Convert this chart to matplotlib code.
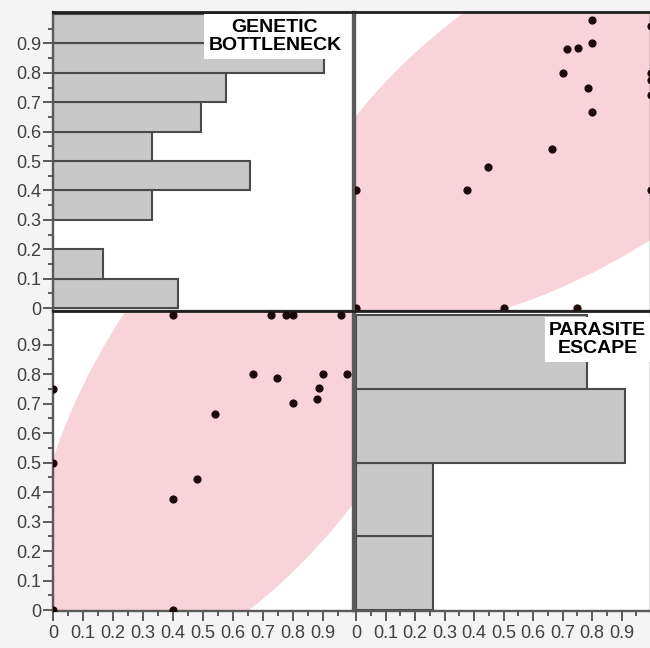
import numpy as np
import matplotlib
matplotlib.use("Agg")
import matplotlib.pyplot as plt
import matplotlib.ticker as ticker
from matplotlib.patches import Ellipse

plt.rcParams.update({
    "font.family": ["Liberation Sans", "DejaVu Sans"],
    "font.size": 13,
})

# Paired observations (genetic bottleneck, parasite escape)
GENETIC = [0.40, 0.725, 0.775, 0.80, 0.96, 0.667, 0.747, 0.90, 0.98, 0.885,
           0.88, 0.80, 0.54, 0.48, 0.40, 0.40, 0.0, 0.0, 0.0]
PARASITE = [1.0, 1.0, 1.0, 1.0, 1.0, 0.80, 0.786, 0.80, 0.80, 0.752,
            0.716, 0.702, 0.665, 0.446, 0.375, 0.0, 0.75, 0.50, 0.0]

# Histogram bins and bar lengths (in axis units)
GB_BIN_EDGES = [0.0, 0.1, 0.2, 0.3, 0.4, 0.5, 0.6, 0.7, 0.8, 0.9, 1.0]
GB_BAR_LENGTHS = [0.415, 0.167, 0.0, 0.331, 0.656, 0.331, 0.492, 0.576, 0.903, 0.82]
PE_BIN_EDGES = [0.0, 0.25, 0.5, 0.75, 1.0]
PE_BAR_LENGTHS = [0.26, 0.26, 0.912, 0.783]

# Density ellipse (x = genetic, y = parasite)
ELLIPSE_CENTER = (0.676, 0.765)
ELLIPSE_AXES = (2.20, 1.00)
ELLIPSE_ANGLE = 56.5

TICKS = [0.0, 0.1, 0.2, 0.3, 0.4, 0.5, 0.6, 0.7, 0.8, 0.9]
MINOR = [0.05, 0.15, 0.25, 0.35, 0.45, 0.55, 0.65, 0.75, 0.85, 0.95]

W, H = 650, 648
EDGE = "#5a5a5a"
PINK = "#f9d3da"
BAR = "#c8c8c8"
BAR_EDGE = "#4a4a4a"
DOT = "#1c0707"


def px_axes(fig, x0, y0, x1, y1):
    return fig.add_axes([x0 / W, 1 - y1 / H, (x1 - x0) / W, (y1 - y0) / H])


def style(ax, xlab=False, ylab=False):
    for s in ax.spines.values():
        s.set_color(EDGE)
        s.set_linewidth(1.7)
    ax.spines["top"].set_color("#202020")
    ax.spines["top"].set_linewidth(2.0)
    ax.tick_params(which="both", color=EDGE, width=1.4, labelcolor="#404040")
    ax.tick_params(which="major", length=7, pad=1.5)
    ax.tick_params(which="minor", length=3.5)
    ax.set_xticks([])
    ax.set_yticks([])
    fmt = ticker.FuncFormatter(lambda v, pos: "0" if v == 0 else f"{v:.1f}")
    if xlab:
        ax.set_xticks(TICKS)
        ax.xaxis.set_minor_locator(ticker.FixedLocator(MINOR))
        ax.xaxis.set_major_formatter(fmt)
        ax.tick_params(axis="x", which="major", pad=3)
    if ylab:
        ax.set_yticks(TICKS)
        ax.yaxis.set_minor_locator(ticker.FixedLocator(MINOR))
        ax.yaxis.set_major_formatter(fmt)


def label(ax, x, y, s):
    ax.text(x, y, s, transform=ax.transAxes, ha="center", va="center",
            fontsize=14, fontweight="bold", color="black", linespacing=1.15,
            bbox=dict(facecolor="white", edgecolor="none", pad=3), zorder=5)


def main():
    fig = plt.figure(figsize=(W / 100, H / 100), dpi=100, facecolor="#f4f4f4")
    ax_tl = px_axes(fig, 53, 12, 353, 311)
    ax_tr = px_axes(fig, 355, 12, 651, 311)
    ax_bl = px_axes(fig, 53, 311, 353, 611)
    ax_br = px_axes(fig, 355, 311, 651, 611)

    left_x = (0.0, 1.0)
    right_x = (-0.0034, 1.0)
    top_y = (-0.010, 1.007)
    bot_y = (-0.003, 1.014)

    # genetic bottleneck histogram
    gb_edges = np.array(GB_BIN_EDGES)
    gb_len = np.array(GB_BAR_LENGTHS)
    keep = gb_len > 0
    ax_tl.barh(gb_edges[:-1][keep], gb_len[keep], height=0.1, align="edge",
               color=BAR, edgecolor=BAR_EDGE, linewidth=1.5)
    ax_tl.set_xlim(*left_x)
    ax_tl.set_ylim(*top_y)
    style(ax_tl, ylab=True)
    label(ax_tl, 0.74, 0.918, "GENETIC\nBOTTLENECK")

    # parasite escape histogram
    pe_edges = np.array(PE_BIN_EDGES)
    ax_br.barh(pe_edges[:-1], PE_BAR_LENGTHS, height=0.25, align="edge",
               color=BAR, edgecolor=BAR_EDGE, linewidth=1.5)
    ax_br.set_xlim(*right_x)
    ax_br.set_ylim(*bot_y)
    style(ax_br, xlab=True)
    label(ax_br, 0.82, 0.905, "PARASITE\nESCAPE")

    # scatter: x = genetic, y = parasite
    ax_bl.add_patch(Ellipse(ELLIPSE_CENTER, ELLIPSE_AXES[0], ELLIPSE_AXES[1],
                            angle=ELLIPSE_ANGLE, facecolor=PINK,
                            edgecolor="none", zorder=1))
    ax_bl.scatter(GENETIC, PARASITE, s=24, color=DOT, zorder=3)
    ax_bl.set_xlim(*left_x)
    ax_bl.set_ylim(*bot_y)
    style(ax_bl, xlab=True, ylab=True)

    # scatter: x = parasite, y = genetic (mirror of the one above)
    ax_tr.add_patch(Ellipse(ELLIPSE_CENTER[::-1], ELLIPSE_AXES[0], ELLIPSE_AXES[1],
                            angle=90 - ELLIPSE_ANGLE, facecolor=PINK,
                            edgecolor="none", zorder=1))
    ax_tr.scatter(PARASITE, GENETIC, s=24, color=DOT, zorder=3)
    ax_tr.set_xlim(*right_x)
    ax_tr.set_ylim(*top_y)
    style(ax_tr)

    fig.savefig("out.png", dpi=100, facecolor=fig.get_facecolor())
    plt.close(fig)


if __name__ == "__main__":
    main()
